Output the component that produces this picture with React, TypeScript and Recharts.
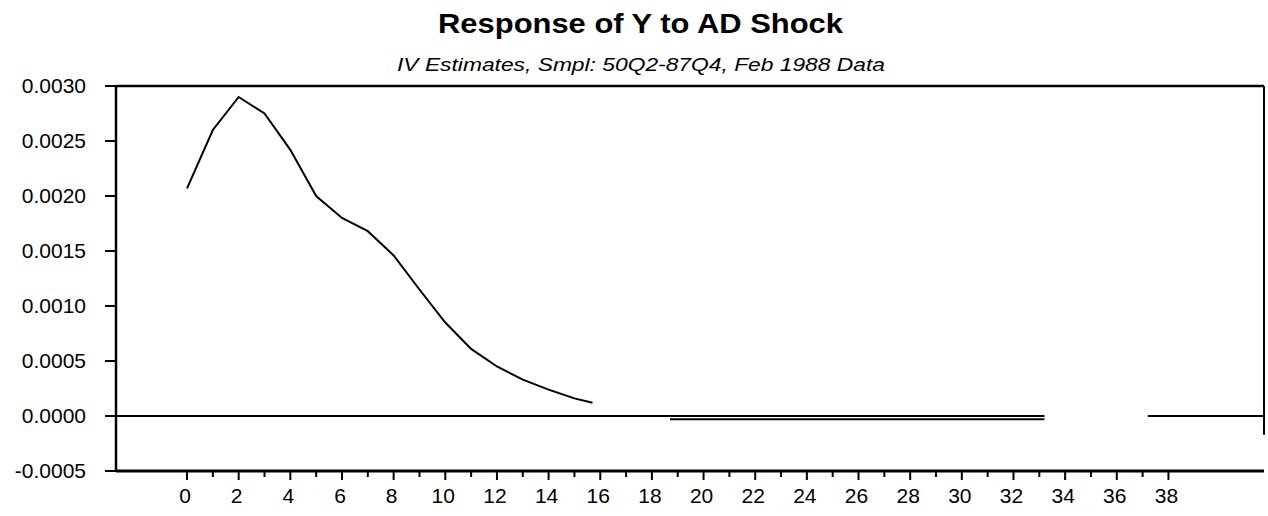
import { Line, LineChart, ReferenceLine, XAxis, YAxis } from 'recharts';

// Impulse response of Y to an AD shock
const periods = [0, 1, 2, 3, 4, 5, 6, 7, 8, 9, 10, 11, 12, 13, 14, 15, 15.7];
const responseValues = [
  0.00207, 0.0026, 0.0029, 0.00275, 0.00242, 0.002, 0.0018, 0.00168, 0.00146,
  0.00115, 0.00085, 0.00061, 0.00045, 0.00033, 0.00024, 0.00016, 0.00012,
];

// later part of the response, sitting just under the zero line
const tailPeriods = [18.7, 20, 22, 24, 26, 28, 30, 32, 33.2];
const tailValues = [-0.00003, -0.00003, -0.00003, -0.00003, -0.00003, -0.00003, -0.00003, -0.00003, -0.00003];

const xTicks = Array.from({ length: 39 }, (_, i) => i);
const yTicks = [-0.0005, 0, 0.0005, 0.001, 0.0015, 0.002, 0.0025, 0.003];
const xDomain: [number, number] = [-2.75, 41.7];
const yDomain: [number, number] = [-0.0005, 0.003];

const TITLE = 'Response of Y to AD Shock';
const SUBTITLE = 'IV Estimates, Smpl: 50Q2-87Q4, Feb 1988 Data';

const FONT = '"Liberation Sans", Arial, sans-serif';

const responseData = periods.map((p, i) => ({ period: p, value: responseValues[i] }));
const tailData = tailPeriods.map((p, i) => ({ period: p, value: tailValues[i] }));

// x ticks: long tick + label on even periods, short tick on odd ones
const XTick = (props: any) => {
  const { x, y, payload } = props;
  const v = payload.value as number;
  const major = v % 2 === 0;
  return (
    <g>
      <line x1={x} y1={y} x2={x} y2={y + (major ? 9 : 6)} stroke="#000" strokeWidth={2} />
      {major && (
        <text x={x - 2} y={y + 32} textAnchor="middle" fontSize={21} fontFamily={FONT} fill="#000">
          {v}
        </text>
      )}
    </g>
  );
};

export default function App() {
  return (
    <div style={{ position: 'absolute', left: 0, top: 0, width: 1268, height: 516, background: '#fff' }}>
      {/* title block */}
      <svg width={1268} height={80} style={{ position: 'absolute', left: 0, top: 0 }}>
        <text
          x={640.5}
          y={33}
          textAnchor="middle"
          fontSize={28}
          fontWeight="bold"
          fontFamily={FONT}
          textLength={405}
          lengthAdjust="spacingAndGlyphs"
          fill="#000"
        >
          {TITLE}
        </text>
        <text
          x={641}
          y={70.5}
          textAnchor="middle"
          fontSize={19}
          fontStyle="italic"
          fontFamily={FONT}
          textLength={488}
          lengthAdjust="spacingAndGlyphs"
          fill="#000"
        >
          {SUBTITLE}
        </text>
      </svg>

      <LineChart
        width={1268}
        height={516}
        margin={{ top: 86, right: 4, bottom: 0, left: 0 }}
        style={{ position: 'absolute', left: 0, top: 0 }}
      >
        <XAxis
          type="number"
          dataKey="period"
          domain={xDomain}
          ticks={xTicks}
          allowDataOverflow
          interval={0}
          tickLine={false}
          tickSize={0}
          tickMargin={0}
          tick={<XTick />}
          axisLine={{ stroke: '#000', strokeWidth: 3 }}
          height={45}
        />
        <YAxis
          type="number"
          domain={yDomain}
          ticks={yTicks}
          allowDataOverflow
          interval={0}
          width={116}
          tickSize={11}
          tickMargin={19}
          tickLine={{ stroke: '#000', strokeWidth: 2 }}
          axisLine={{ stroke: '#000', strokeWidth: 2.5 }}
          tick={{ fill: '#000', fontSize: 21, fontFamily: FONT }}
          tickFormatter={(v: number) => v.toFixed(4)}
        />

        {/* frame: top edge and right edge */}
        <ReferenceLine y={0.003} stroke="#000" strokeWidth={2.5} />
        <ReferenceLine
          segment={[
            { x: xDomain[1], y: 0.003 },
            { x: xDomain[1], y: -0.00017 },
          ]}
          stroke="#000"
          strokeWidth={2}
        />

        {/* zero line (broken near the right as in the scan) */}
        <ReferenceLine
          segment={[
            { x: xDomain[0], y: 0 },
            { x: 33.2, y: 0 },
          ]}
          stroke="#000"
          strokeWidth={2}
        />
        <ReferenceLine
          segment={[
            { x: 37.2, y: 0 },
            { x: xDomain[1], y: 0 },
          ]}
          stroke="#000"
          strokeWidth={2}
        />

        <Line
          data={responseData}
          dataKey="value"
          type="linear"
          stroke="#000"
          strokeWidth={2}
          dot={false}
          activeDot={false}
          isAnimationActive={false}
        />
        <Line
          data={tailData}
          dataKey="value"
          type="linear"
          stroke="#000"
          strokeWidth={2}
          dot={false}
          activeDot={false}
          isAnimationActive={false}
        />
      </LineChart>
    </div>
  );
}
